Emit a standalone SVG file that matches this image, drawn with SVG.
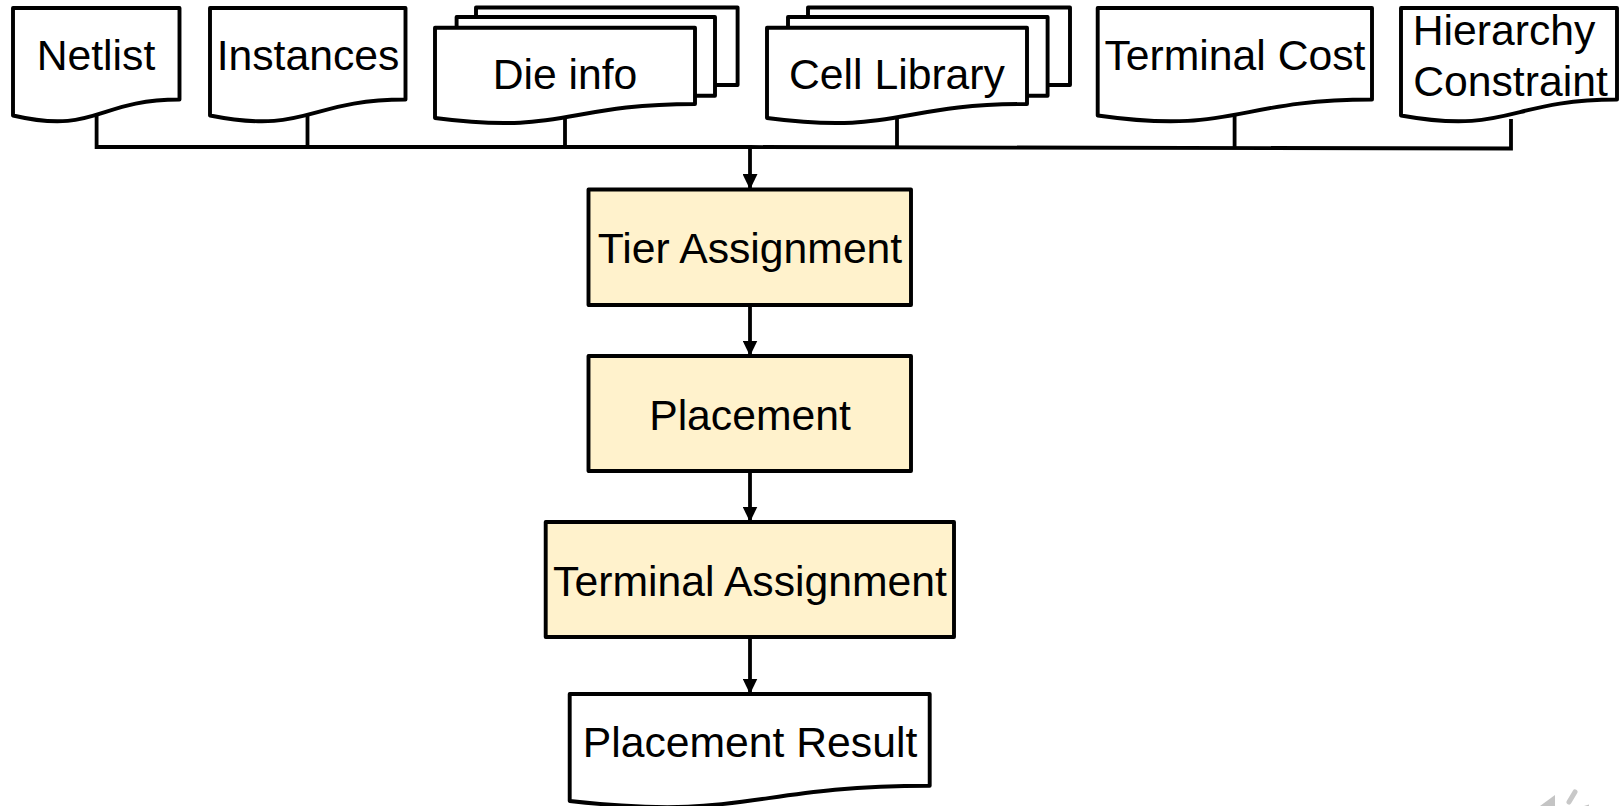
<svg xmlns="http://www.w3.org/2000/svg" width="1621" height="806" viewBox="0 0 1621 806">
<style>
.s{fill:#fff;stroke:#000;stroke-width:3.9;stroke-linejoin:round}
.p{fill:#fff2cc;stroke:#000;stroke-width:3.9;stroke-linejoin:round}
.c{fill:none;stroke:#000;stroke-width:3.8;stroke-linejoin:miter}
.a{marker-end:url(#h)}
text{font-family:"Liberation Sans",Arial,sans-serif;font-size:42.7px;fill:#000;text-anchor:middle}
</style>
<defs>
<marker id="h" markerUnits="userSpaceOnUse" markerWidth="16" markerHeight="15" refX="15.5" refY="7.5" orient="auto"><path d="M0,0L15.5,7.5L0,15Z" fill="#000"/></marker>
</defs>
<rect width="1621" height="806" fill="#fff"/>
<g id="connectors">
<path class="c" d="M96.6,116V147H750L1511,148.5V119"/>
<path class="c" d="M307.5,116V147M565,116V147.5M897,116V148M1234.6,116V148.5"/>
<path class="c a" d="M750,147.5V189.5"/>
<path class="c a" d="M750,305V356"/>
<path class="c a" d="M750,471V522"/>
<path class="c a" d="M750,637V694"/>
</g>
<g id="netlist"><path class="s" d="M13,8H179.5V99.5C96.5,99.5 96.5,135 13,115.5Z"/><text x="96" y="69.5">Netlist</text></g>
<g id="instances"><path class="s" d="M210,8H405.5V99.5C307.7,99.5 307.7,135 210,115.5Z"/><text x="308" y="69.5">Instances</text></g>
<g id="die-info">
<path class="s" d="M476,7.5H737.6V85H700V30H476Z"/>
<path class="s" d="M456.6,17H715V95.7H690V40H456.6Z"/>
<path class="s" d="M435,27.7H695V104C565,104 565,135 435,118Z"/>
<text x="565" y="89">Die info</text></g>
<g id="cell-library">
<path class="s" d="M808,7.5H1070V85H1030V30H808Z"/>
<path class="s" d="M788,17H1047.6V95.7H1020V40H788Z"/>
<path class="s" d="M767,27.7H1027V104C897,104 897,135 767,118Z"/>
<text x="897" y="89">Cell Library</text></g>
<g id="terminal-cost"><path class="s" d="M1097.7,8H1372V99.5C1235,99.5 1235,135 1097.7,115.5Z"/><text x="1235" y="69.5">Terminal Cost</text></g>
<g id="hierarchy-constraint"><path class="s" d="M1401,8H1617V99.5C1509,99.5 1509,135 1401,115.5Z"/><text x="1504" y="44.5">Hierarchy</text><text x="1510.5" y="95.5">Constraint</text></g>
<g id="tier-assignment"><rect class="p" x="588.5" y="189.5" width="322.5" height="115.5"/><text x="750" y="263">Tier Assignment</text></g>
<g id="placement"><rect class="p" x="588.5" y="356" width="322.5" height="115"/><text x="750" y="430">Placement</text></g>
<g id="terminal-assignment"><rect class="p" x="545.7" y="522" width="408.3" height="115"/><text x="750" y="596">Terminal Assignment</text></g>
<g id="placement-result"><path class="s" d="M569.7,694H929.7V785.7C749.7,785.7 749.7,821 569.7,801Z"/><text x="750" y="757">Placement Result</text></g>
<g id="corner-mark" fill="#c4c4c4"><path d="M1540,806L1555,795V806Z"/><path d="M1569,802L1575,792" stroke="#c8c8c8" stroke-width="5" fill="none" stroke-linecap="round"/><path d="M1584,806L1589,804.5V806Z"/></g>
</svg>
